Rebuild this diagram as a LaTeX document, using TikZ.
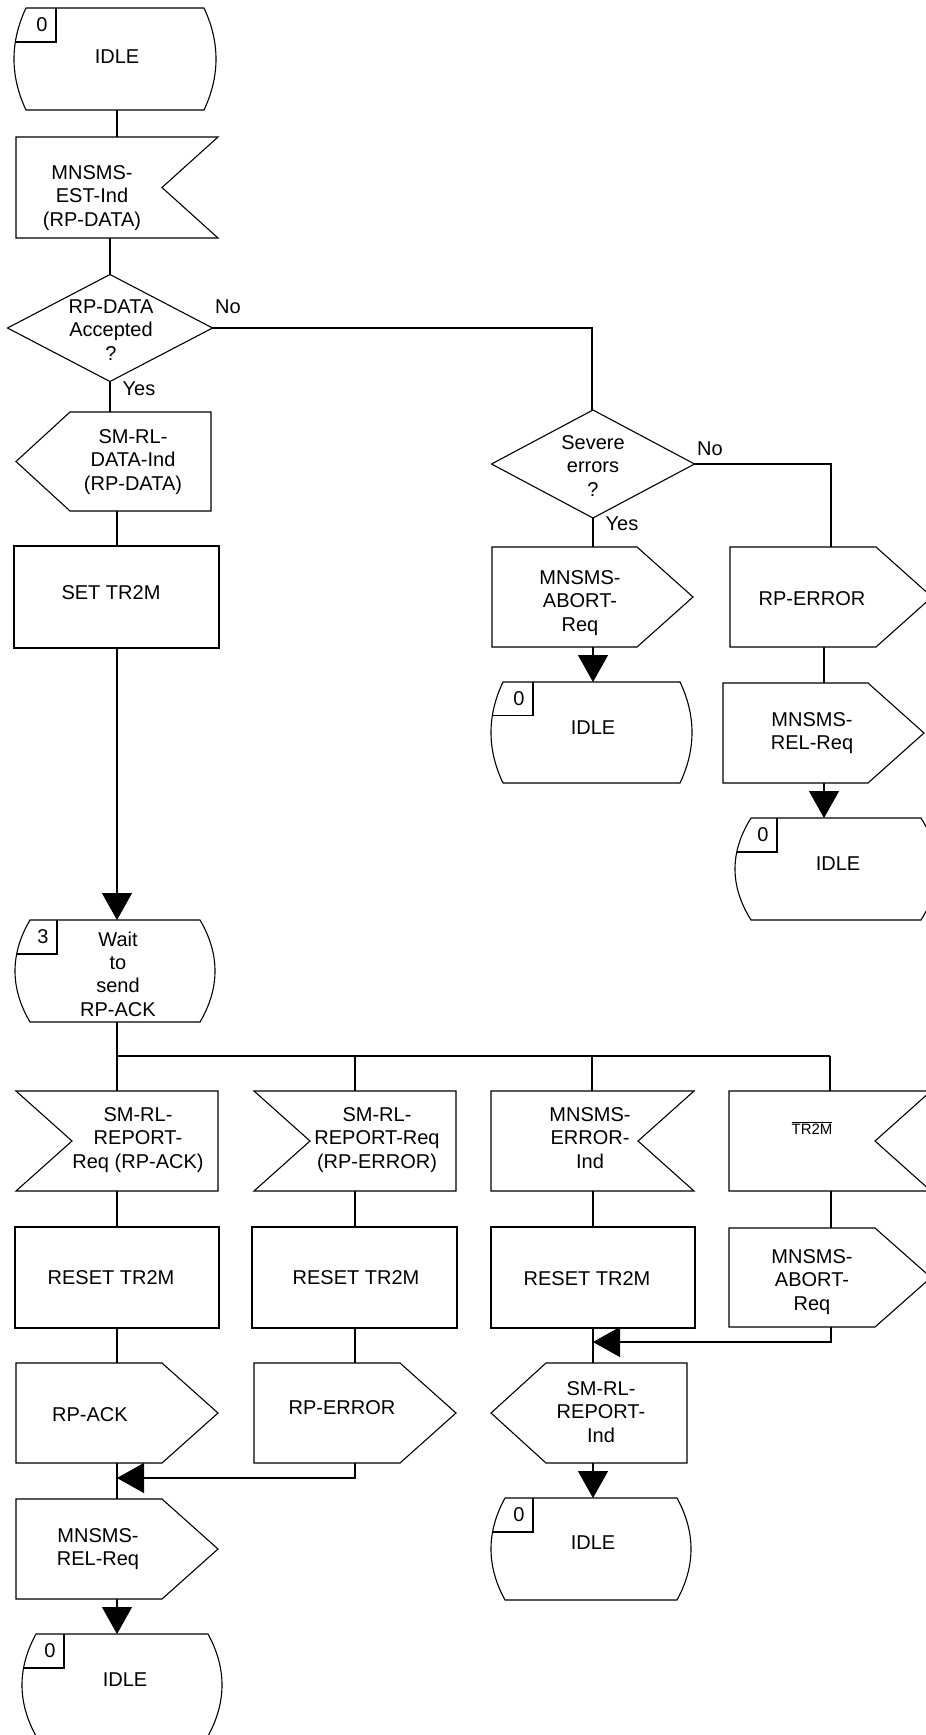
\documentclass[tikz,border=0pt]{standalone}
\usepackage{fontspec}
\setmainfont{Liberation Sans}
\usetikzlibrary{arrows.meta}
\tikzset{
  sdl/.style={draw=black, line width=1.1pt, fill=white, line join=miter},
  conn/.style={draw=black, line width=1.1pt},
  arr/.style={conn, -{Triangle[width=30pt,length=27pt]}},
  lbl/.style={align=center, inner sep=0pt, font=\fontsize{20}{23.3}\selectfont},
  smalllbl/.style={align=center, inner sep=0pt, font=\fontsize{15}{18}\selectfont},
}
% state: x0, x1, top, bottom, inset, number, name
\newcommand{\mkstate}[7]{%
  \pgfmathsetmacro{\zqA}{#1+#5}\pgfmathsetmacro{\zqB}{#2-#5}%
  \pgfmathsetmacro{\zqC}{#1-#5/3}\pgfmathsetmacro{\zqD}{#2+#5/3}%
  \pgfmathsetmacro{\zqH}{(#4-#3)/3}%
  \pgfmathsetmacro{\zqE}{#3+\zqH}\pgfmathsetmacro{\zqF}{#4-\zqH}%
  \pgfmathsetmacro{\zqG}{#1+#5/9}\pgfmathsetmacro{\zqI}{#1+42}%
  \draw[sdl] (\zqA,#3) -- (\zqB,#3) .. controls (\zqD,\zqE) and (\zqD,\zqF) .. (\zqB,#4)
     -- (\zqA,#4) .. controls (\zqC,\zqF) and (\zqC,\zqE) .. (\zqA,#3) -- cycle;
  \draw[conn] (\zqG,\zqE) -- (\zqI,\zqE) -- (\zqI,#3);
  \node[lbl] (#7) at ({#1+28},{#3+17}) {#6};
}
% input, notch on right: x0,x1,top,bottom,depth
\newcommand{\mkinR}[5]{%
  \draw[sdl] (#1,#3) -- (#2,#3) -- ({#2-#5},{(#3+#4)/2}) -- (#2,#4) -- (#1,#4) -- cycle;}
% input, notch on left
\newcommand{\mkinL}[5]{%
  \draw[sdl] (#1,#3) -- (#2,#3) -- (#2,#4) -- (#1,#4) -- ({#1+#5},{(#3+#4)/2}) -- cycle;}
% output pointing right
\newcommand{\mkoutR}[5]{%
  \draw[sdl] (#1,#3) -- ({#2-#5},#3) -- (#2,{(#3+#4)/2}) -- ({#2-#5},#4) -- (#1,#4) -- cycle;}
% output pointing left
\newcommand{\mkoutL}[5]{%
  \draw[sdl] ({#1+#5},#3) -- (#2,#3) -- (#2,#4) -- ({#1+#5},#4) -- (#1,{(#3+#4)/2}) -- cycle;}
% task
\newcommand{\mktask}[4]{\draw[sdl] (#1,#3) rectangle (#2,#4);}
% decision: cx, cy, half width, half height
\newcommand{\mkdec}[4]{%
  \draw[sdl] (#1,{#2-#4}) -- ({#1+#3},#2) -- (#1,{#2+#4}) -- ({#1-#3},#2) -- cycle;}
\begin{document}
\begin{tikzpicture}[x=1pt,y=-1pt]
\useasboundingbox (0,0) rectangle (926,1735);

% ---------- connection points ----------
\coordinate (a1) at (117,110);  \coordinate (a2) at (117,137);
\coordinate (b1) at (110,238);  \coordinate (b2) at (110,275);
\coordinate (c1) at (110,382);  \coordinate (c2) at (110,412);
\coordinate (d1) at (117,511);  \coordinate (d2) at (117,546);
\coordinate (e1) at (117,648);  \coordinate (e2) at (117,920);
\coordinate (f1) at (117,1022); \coordinate (f2) at (117,1056);
\coordinate (g1) at (355,1056); \coordinate (g2) at (592,1056); \coordinate (g3) at (830,1056);
\coordinate (h1) at (117,1091); \coordinate (h2) at (355,1091); \coordinate (h3) at (592,1091); \coordinate (h4) at (830,1091);
\coordinate (i1) at (117,1191); \coordinate (i2) at (355,1191); \coordinate (i3) at (593,1191); \coordinate (i4) at (831,1191);
\coordinate (j1) at (117,1227); \coordinate (j2) at (355,1227); \coordinate (j3) at (593,1227); \coordinate (j4) at (831,1228);
\coordinate (k1) at (117,1328); \coordinate (k2) at (355,1328); \coordinate (k3) at (593,1328); \coordinate (k4) at (831,1327);
\coordinate (l1) at (117,1363); \coordinate (l2) at (355,1363); \coordinate (l3) at (593,1363);
\coordinate (m4) at (831,1342); \coordinate (m3) at (593,1342);
\coordinate (n1) at (117,1463); \coordinate (n2) at (355,1463); \coordinate (n3) at (593,1463);
\coordinate (o2) at (355,1478); \coordinate (o1) at (117,1478);
\coordinate (p1) at (117,1499);
\coordinate (q1) at (117,1599); \coordinate (q2) at (117,1634);
\coordinate (r3) at (593,1498);
\coordinate (s1) at (212,328);  \coordinate (s2) at (592,328); \coordinate (s3) at (592,410);
\coordinate (t1) at (593,518);  \coordinate (t2) at (593,547);
\coordinate (u1) at (593,647);  \coordinate (u2) at (593,682);
\coordinate (v1) at (694,464);  \coordinate (v2) at (831,464); \coordinate (v3) at (831,547);
\coordinate (w1) at (824,647);  \coordinate (w2) at (824,683);
\coordinate (x1) at (824,783);  \coordinate (x2) at (824,818);

% ---------- connectors ----------
\draw[conn] (a1) -- (a2);
\draw[conn] (b1) -- (b2);
\draw[conn] (c1) -- (c2);
\draw[conn] (d1) -- (d2);
\draw[arr]  (e1) -- (e2);
\draw[conn] (f1) -- (f2) -- (g3);
\draw[conn] (f2) -- (h1);
\draw[conn] (g1) -- (h2);
\draw[conn] (g2) -- (h3);
\draw[conn] (g3) -- (h4);
\draw[conn] (i1) -- (j1);
\draw[conn] (i2) -- (j2);
\draw[conn] (i3) -- (j3);
\draw[conn] (i4) -- (j4);
\draw[conn] (k1) -- (l1);
\draw[conn] (k2) -- (l2);
\draw[conn] (k3) -- (l3);
\draw[arr]  (k4) -- (m4) -- (m3);
\draw[arr]  (n2) -- (o2) -- (o1);
\draw[conn] (n1) -- (p1);
\draw[arr]  (q1) -- (q2);
\draw[arr]  (n3) -- (r3);
\draw[conn] (s1) -- (s2) -- (s3);
\draw[conn] (t1) -- (t2);
\draw[arr]  (u1) -- (u2);
\draw[conn] (v1) -- (v2) -- (v3);
\draw[conn] (w1) -- (w2);
\draw[arr]  (x1) -- (x2);

% ---------- left column ----------
\mkstate{14}{216}{8}{110}{12}{0}{num1}
\node[lbl] (idle1) at (117,57) {IDLE};

\mkinR{16}{218}{137}{238}{56}
\node[lbl] (estind) at (92,198) {MNSMS-\\EST-Ind\\(RP-DATA)};

\mkdec{110}{328}{102.5}{53.5}
\node[lbl] (dec1) at (111,330) {RP-DATA\\Accepted\\?};
\node[lbl] (no1) at (228,307) {No};
\node[lbl] (yes1) at (139,389) {Yes};

\mkoutL{16}{211}{412}{511}{54}
\node[lbl] (dataind) at (133,462) {SM-RL-\\DATA-Ind\\(RP-DATA)};

\mktask{14}{219}{546}{648}
\node[lbl] (settr) at (111,593) {SET TR2M};

\mkstate{15}{215}{920}{1022}{15}{3}{num3}
\node[lbl] (wait) at (118,974) {Wait\\to\\send\\RP-ACK};

% ---------- input row ----------
\mkinL{16}{218}{1091}{1191}{56}
\node[lbl] (repack) at (138,1140) {SM-RL-\\REPORT-\\Req (RP-ACK)};
\mkinL{254}{456}{1091}{1191}{56}
\node[lbl] (reperr) at (377,1140) {SM-RL-\\REPORT-Req\\(RP-ERROR)};
\mkinR{491}{694}{1091}{1191}{56}
\node[lbl] (errind) at (590,1138) {MNSMS-\\ERROR-\\Ind};
\mkinR{729}{931}{1091}{1191}{56}
\node[smalllbl] (tr2m) at (812,1128) {$\overline{\mbox{TR2M}}$};

% ---------- task row ----------
\mktask{15}{219}{1227}{1328}
\node[lbl] (reset1) at (111,1278) {RESET TR2M};
\mktask{252}{457}{1227}{1328}
\node[lbl] (reset2) at (356,1278) {RESET TR2M};
\mktask{491}{695}{1227}{1328}
\node[lbl] (reset3) at (587,1279) {RESET TR2M};
\mkoutR{729}{931}{1228}{1327}{56}
\node[lbl] (abort2) at (812,1282) {MNSMS-\\ABORT-\\Req};

% ---------- output row ----------
\mkoutR{16}{218}{1363}{1463}{56}
\node[lbl] (rpack) at (90,1415) {RP-ACK};
\mkoutR{254}{456}{1363}{1463}{56}
\node[lbl] (rperr2) at (342,1408) {RP-ERROR};
\mkoutL{491}{687}{1363}{1463}{55}
\node[lbl] (repind) at (601,1412) {SM-RL-\\REPORT-\\Ind};

\mkoutR{16}{218}{1499}{1599}{56}
\node[lbl] (relreq1) at (98,1549) {MNSMS-\\REL-Req};

\mkstate{22}{222}{1634}{1736}{14}{0}{num5}
\node[lbl] (idle5) at (125,1680) {IDLE};

\mkstate{491}{691}{1498}{1600}{14}{0}{num6}
\node[lbl] (idle6) at (593,1543) {IDLE};

% ---------- right branch ----------
\mkdec{593}{464}{101.5}{54}
\node[lbl] (dec2) at (593,466) {Severe\\errors\\?};
\node[lbl] (no2) at (710,449) {No};
\node[lbl] (yes2) at (622,524) {Yes};

\mkoutR{492}{693}{547}{647}{56}
\node[lbl] (abort1) at (580,603) {MNSMS-\\ABORT-\\Req};

\mkstate{491}{692}{682}{783}{12}{0}{num2}
\node[lbl] (idle2) at (593,728) {IDLE};

\mkoutR{730}{932}{547}{647}{56}
\node[lbl] (rperr1) at (812,599) {RP-ERROR};

\mkoutR{723}{924}{683}{783}{56}
\node[lbl] (relreq2) at (812,733) {MNSMS-\\REL-Req};

\mkstate{735}{937}{818}{920}{16}{0}{num4}
\node[lbl] (idle4) at (838,864) {IDLE};
\end{tikzpicture}
\end{document}
